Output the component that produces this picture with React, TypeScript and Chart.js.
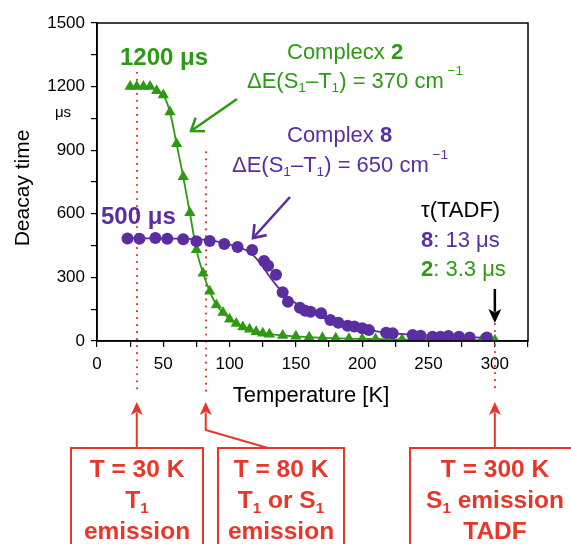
import React, { useEffect, useRef } from 'react';
import { Chart, registerables } from 'chart.js';
Chart.register(...registerables);

const FONT = 'Arial, "Liberation Sans", sans-serif';
const GREEN = '#2e9a14';
const PURPLE = '#5a2ea0';
const RED = '#e8372a';

// Complex 2 (green triangles): temperature [K] and decay time [µs]
const greenT = [25, 30, 35, 40, 45, 50, 55, 60, 65, 70, 75, 80, 85, 90, 95, 100, 105, 110, 115, 120, 125, 130, 140, 150, 160, 170, 180, 190, 200, 210, 220, 230, 240, 250, 260, 270, 280, 290, 300];
const greenTau = [1200, 1200, 1200, 1200, 1180, 1160, 1080, 930, 775, 605, 430, 320, 235, 170, 135, 103, 82, 66, 55, 44, 37, 32, 26, 22, 18, 15, 13, 11, 10, 9, 8, 7, 6, 5.5, 5, 4.5, 4, 3.6, 3.3];

// Complex 8 (purple circles)
const purpleT = [23, 32, 44, 53, 65, 75, 85, 96, 106, 117, 126, 129, 135, 140, 144, 153, 157, 161, 169, 176, 182, 189, 194, 200, 205, 218, 223, 238, 244, 253, 259, 265, 273, 281, 294];
const purpleTau = [484, 482, 486, 482, 480, 470, 472, 457, 443, 429, 377, 355, 313, 230, 185, 157, 143, 138, 131, 99, 86, 72, 68, 60, 52, 39, 36, 28, 25, 20, 20, 24, 20, 16, 17];

// Complex 8 fit curve
const purpleFitT = [23, 40, 60, 80, 90, 100, 110, 115, 120, 125, 130, 135, 140, 145, 150, 160, 170, 180, 190, 200, 210, 220, 240, 260, 280, 295];
const purpleFitTau = [484, 484, 483, 478, 470, 455, 435, 418, 390, 350, 305, 265, 228, 200, 178, 142, 110, 90, 74, 58, 47, 38, 28, 22, 18, 15];

const xTickLabels = [0, 50, 100, 150, 200, 250, 300];
const yTickLabels = [0, 300, 600, 900, 1200, 1500];

// marked temperatures (dotted lines) and the decay time at which each dotted line starts
const markT = [30, 82, 300];
const markTopTau = [1265, 890, 80];

type Seg = { t: string; b?: boolean; sub?: boolean; sup?: boolean; c?: string };

function richWidth(ctx: CanvasRenderingContext2D, segs: Seg[], size: number) {
  let w = 0;
  for (const s of segs) {
    const sz = s.sub || s.sup ? size * 0.62 : size;
    ctx.font = `${s.b ? 'bold ' : ''}${sz}px ${FONT}`;
    w += ctx.measureText(s.t).width;
  }
  return w;
}

function drawRich(ctx: CanvasRenderingContext2D, segs: Seg[], x: number, y: number, size: number, color: string, align: 'left' | 'center' = 'left') {
  let cx = x;
  if (align === 'center') cx = x - richWidth(ctx, segs, size) / 2;
  ctx.textAlign = 'left';
  ctx.textBaseline = 'alphabetic';
  for (const s of segs) {
    const sz = s.sub || s.sup ? size * 0.62 : size;
    ctx.font = `${s.b ? 'bold ' : ''}${sz}px ${FONT}`;
    ctx.fillStyle = s.c || color;
    const dy = s.sub ? size * 0.2 : s.sup ? -size * 0.6 : 0;
    ctx.fillText(s.t, cx, y + dy);
    cx += ctx.measureText(s.t).width;
  }
}

function arrowFilled(ctx: CanvasRenderingContext2D, pts: number[][], color: string, lw: number, hl: number, hw: number) {
  ctx.save();
  ctx.strokeStyle = color;
  ctx.fillStyle = color;
  ctx.lineWidth = lw;
  ctx.setLineDash([]);
  const n = pts.length;
  const [x2, y2] = pts[n - 1];
  const [x1, y1] = pts[n - 2];
  const ang = Math.atan2(y2 - y1, x2 - x1);
  ctx.beginPath();
  ctx.moveTo(pts[0][0], pts[0][1]);
  for (let i = 1; i < n - 1; i++) ctx.lineTo(pts[i][0], pts[i][1]);
  ctx.lineTo(x2 - Math.cos(ang) * hl * 0.8, y2 - Math.sin(ang) * hl * 0.8);
  ctx.stroke();
  ctx.beginPath();
  ctx.moveTo(x2, y2);
  ctx.lineTo(x2 - Math.cos(ang) * hl + Math.sin(ang) * hw / 2, y2 - Math.sin(ang) * hl - Math.cos(ang) * hw / 2);
  ctx.lineTo(x2 - Math.cos(ang) * hl * 0.75, y2 - Math.sin(ang) * hl * 0.75);
  ctx.lineTo(x2 - Math.cos(ang) * hl - Math.sin(ang) * hw / 2, y2 - Math.sin(ang) * hl + Math.cos(ang) * hw / 2);
  ctx.closePath();
  ctx.fill();
  ctx.restore();
}

function arrowOpen(ctx: CanvasRenderingContext2D, x1: number, y1: number, x2: number, y2: number, color: string, lw: number, hl: number) {
  ctx.save();
  ctx.strokeStyle = color;
  ctx.lineWidth = lw;
  ctx.lineCap = 'butt';
  ctx.lineJoin = 'miter';
  const ang = Math.atan2(y2 - y1, x2 - x1);
  ctx.beginPath();
  ctx.moveTo(x1, y1);
  ctx.lineTo(x2, y2);
  ctx.stroke();
  ctx.beginPath();
  const a1 = ang + Math.PI * 0.8;
  const a2 = ang - Math.PI * 0.8;
  ctx.moveTo(x2 + Math.cos(a1) * hl, y2 + Math.sin(a1) * hl);
  ctx.lineTo(x2, y2);
  ctx.lineTo(x2 + Math.cos(a2) * hl, y2 + Math.sin(a2) * hl);
  ctx.stroke();
  ctx.restore();
}

const overlay = {
  id: 'overlay',
  beforeDatasetsDraw(chart: any) {
    const { ctx, scales } = chart;
    const x = scales.x;
    const y = scales.y;
    ctx.save();
    ctx.strokeStyle = RED;
    ctx.lineWidth = 2.2;
    ctx.lineCap = 'round';
    ctx.setLineDash([0.01, 7]);
    markT.forEach((t, i) => {
      const px = Math.round(x.getPixelForValue(t));
      ctx.beginPath();
      ctx.moveTo(px, y.getPixelForValue(markTopTau[i]));
      ctx.lineTo(px, 392);
      ctx.stroke();
    });
    ctx.restore();
  },
  afterDraw(chart: any) {
    const { ctx, chartArea: a, scales } = chart;
    const x = scales.x;
    ctx.save();
    // frame
    ctx.strokeStyle = '#000';
    ctx.lineWidth = 1.5;
    ctx.strokeRect(a.left, a.top, a.right - a.left, a.bottom - a.top);

    // axis titles
    ctx.fillStyle = '#000';
    ctx.font = `22px ${FONT}`;
    ctx.textAlign = 'center';
    ctx.textBaseline = 'alphabetic';
    ctx.fillText('Temperature [K]', 311, 402);
    ctx.save();
    ctx.translate(29, 188);
    ctx.rotate(-Math.PI / 2);
    ctx.font = `21px ${FONT}`;
    ctx.fillText('Deacay time', 0, 0);
    ctx.restore();
    ctx.font = `15px ${FONT}`;
    ctx.fillText('μs', 63, 117);

    // in-plot labels
    drawRich(ctx, [{ t: '1200 μs', b: true }], 120, 65, 24, GREEN);
    drawRich(ctx, [{ t: '500 μs', b: true }], 101, 224, 24, PURPLE);
    drawRich(ctx, [{ t: 'Complecx ' }, { t: '2', b: true }], 287, 59, 22, GREEN);
    drawRich(ctx, [{ t: 'ΔE(S' }, { t: '1', sub: true }, { t: '–T' }, { t: '1', sub: true }, { t: ') = 370 cm' }, { t: ' −1', sup: true }], 247, 88, 22, GREEN);
    drawRich(ctx, [{ t: 'Complex ' }, { t: '8', b: true }], 287, 142, 22, PURPLE);
    drawRich(ctx, [{ t: 'ΔE(S' }, { t: '1', sub: true }, { t: '–T' }, { t: '1', sub: true }, { t: ') = 650 cm' }, { t: ' −1', sup: true }], 232, 172, 22, PURPLE);
    drawRich(ctx, [{ t: 'τ(TADF)' }], 421, 217, 22, '#000');
    drawRich(ctx, [{ t: '8', b: true }, { t: ': 13 μs' }], 421, 247, 22, PURPLE);
    drawRich(ctx, [{ t: '2', b: true }, { t: ': 3.3 μs' }], 421, 276, 22, GREEN);

    // pointer arrows
    arrowOpen(ctx, 237, 99, 191, 131, GREEN, 2.6, 14);
    arrowOpen(ctx, 290, 197, 253, 238, PURPLE, 2.6, 14);
    const x300 = x.getPixelForValue(300);
    arrowFilled(ctx, [[x300, 289], [x300, 323]], '#000', 2.5, 14, 13);

    // red boxes and arrows
    const x30 = x.getPixelForValue(30);
    const x80 = x.getPixelForValue(82);
    arrowFilled(ctx, [[x30, 448], [x30, 402]], RED, 2, 13, 12);
    arrowFilled(ctx, [[268, 448], [x80, 430], [x80, 402]], RED, 2, 13, 12);
    arrowFilled(ctx, [[x300, 448], [x300, 402]], RED, 2, 13, 12);
    ctx.strokeStyle = RED;
    ctx.lineWidth = 2;
    ctx.strokeRect(71, 448, 132, 120);
    ctx.strokeRect(218, 448, 126, 120);
    ctx.strokeRect(410, 448, 200, 120);
    const boxes: [number, Seg[][]][] = [
      [137, [[{ t: 'T = 30 K' }], [{ t: 'T' }, { t: '1', sub: true }], [{ t: 'emission' }]]],
      [281, [[{ t: 'T = 80 K' }], [{ t: 'T' }, { t: '1', sub: true }, { t: ' or S' }, { t: '1', sub: true }], [{ t: 'emission' }]]],
      [495, [[{ t: 'T = 300 K' }], [{ t: 'S' }, { t: '1', sub: true }, { t: ' emission' }], [{ t: 'TADF' }]]],
    ];
    boxes.forEach(([cx, lines]) => {
      lines.forEach((segs, i) => {
        drawRich(ctx, segs.map((s) => ({ ...s, b: true })), cx, 477 + i * 31, 24.5, RED, 'center');
      });
    });
    ctx.restore();
  },
};

export default function App() {
  const ref = useRef<HTMLCanvasElement | null>(null);
  useEffect(() => {
    if (!ref.current) return;
    const chart = new Chart(ref.current, {
      type: 'scatter',
      data: {
        datasets: [
          {
            label: 'Complex 8 fit',
            data: purpleFitT.map((t, i) => ({ x: t, y: purpleFitTau[i] })),
            showLine: true,
            borderColor: PURPLE,
            borderWidth: 1.8,
            pointRadius: 0,
            cubicInterpolationMode: 'monotone',
          },
          {
            label: 'Complex 8',
            data: purpleT.map((t, i) => ({ x: t, y: purpleTau[i] })),
            showLine: false,
            pointStyle: 'circle',
            pointRadius: 6,
            backgroundColor: PURPLE,
            borderColor: PURPLE,
            borderWidth: 0,
          },
          {
            label: 'Complex 2',
            data: greenT.map((t, i) => ({ x: t, y: greenTau[i] })),
            showLine: true,
            cubicInterpolationMode: 'monotone',
            borderColor: GREEN,
            borderWidth: 1.8,
            pointStyle: 'triangle',
            pointRadius: 6.5,
            pointBackgroundColor: GREEN,
            pointBorderColor: GREEN,
            pointBorderWidth: 0,
          },
        ],
      } as any,
      options: {
        animation: false,
        responsive: false,
        devicePixelRatio: 1,
        layout: { padding: { left: 0, top: 23, right: 43, bottom: 0 } },
        plugins: { legend: { display: false }, tooltip: { enabled: false } },
        scales: {
          x: {
            type: 'linear',
            min: 0,
            max: 325,
            afterFit: (s: any) => { s.height = 203; },
            ticks: {
              stepSize: 25,
              autoSkip: false,
              maxRotation: 0,
              padding: 7,
              color: '#000',
              font: { family: FONT, size: 17 },
              callback: (v: any) => (xTickLabels.includes(Number(v)) ? String(v) : ''),
            },
            grid: { drawOnChartArea: false, drawTicks: true, tickLength: 6, color: '#000', lineWidth: 1.2 },
            border: { display: true, color: '#000', width: 1.5 },
          },
          y: {
            type: 'linear',
            min: 0,
            max: 1500,
            afterFit: (s: any) => { s.width = 97; },
            ticks: {
              stepSize: 150,
              autoSkip: false,
              padding: 6,
              color: '#000',
              font: { family: FONT, size: 17 },
              callback: (v: any) => (yTickLabels.includes(Number(v)) ? String(v) : ''),
            },
            grid: { drawOnChartArea: false, drawTicks: true, tickLength: 6, color: '#000', lineWidth: 1.2 },
            border: { display: true, color: '#000', width: 1.5 },
          },
        },
      } as any,
      plugins: [overlay],
    });
    return () => chart.destroy();
  }, []);
  return (
    <div style={{ position: 'absolute', left: 0, top: 0, width: 571, height: 544, background: '#fff', overflow: 'hidden' }}>
      <canvas ref={ref} width={571} height={544} style={{ display: 'block' }} />
    </div>
  );
}
